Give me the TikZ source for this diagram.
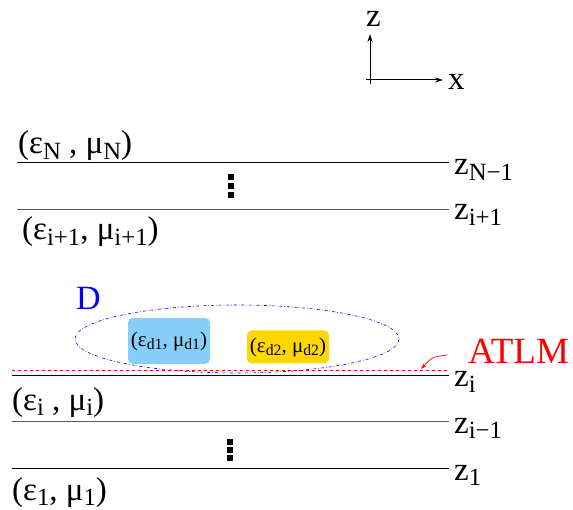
\documentclass[tikz,border=0pt]{standalone}
\usepackage{fontspec}
\setmainfont{Liberation Serif}
\usetikzlibrary{arrows.meta}
\definecolor{boxblue}{HTML}{87CEFA}
\definecolor{boxgold}{HTML}{FFD700}
\newcommand{\lsb}[1]{\raisebox{-0.35ex}{\fontsize{0.75em}{1em}\selectfont #1}}
\tikzset{
  layer/.style={line width=1pt},
  graylayer/.style={line width=1pt, black!65},
  zlab/.style={anchor=base west, inner sep=0pt, font=\fontsize{33}{35}\selectfont},
  mat/.style={anchor=base west, inner sep=0pt, font=\fontsize{33}{35}\selectfont},
  dotsq/.style={fill=black, minimum width=6pt, minimum height=6pt, inner sep=0pt},
  matbox/.style={rounded corners=5pt, inner sep=0pt, font=\fontsize{21}{23}\selectfont},
}
\begin{document}
\begin{tikzpicture}[x=1pt,y=-1pt]
\useasboundingbox (0,0) rectangle (573,510);
% axes
\coordinate (zt) at (370,34);
\coordinate (xt) at (443,80);
\draw[line width=1pt,-{Stealth[length=8pt,width=5pt]}] (370,84) -- (zt);
\draw[line width=1pt,-{Stealth[length=8pt,width=5pt]}] (366,80) -- (xt);
\node[zlab] (zax) at (366,27) {z};
\node[zlab] (xax) at (448,90) {x};
% top layers
\node[mat] (eN) at (18,154) {(ε\lsb{N} , μ\lsb{N})};
\coordinate (a1) at (17,163); \coordinate (a2) at (449,163);
\draw[layer] (a1) -- (a2);
\node[zlab] (zN) at (454,175) {z\lsb{N−1}};
\node[dotsq] (d1) at (231,177) {};
\node[dotsq] (d2) at (231,186) {};
\node[dotsq] (d3) at (231,195) {};
\coordinate (b1) at (17,210); \coordinate (b2) at (449,210);
\draw[graylayer] (b1) -- (b2);
\node[zlab] (zi1) at (454,220) {z\lsb{i+1}};
\node[mat] (ei1) at (22,240) {(ε\lsb{i+1}, μ\lsb{i+1})};
% domain D
\node[font=\fontsize{34}{36}\selectfont, text=blue, anchor=base west, inner sep=0pt] (D) at (76,310) {D};
\draw[blue, line width=0.6pt, dash dot] (237,339) ellipse [x radius=162, y radius=34];
\node[matbox, fill=boxblue, minimum width=82pt, minimum height=46pt] (bx1) at (169,341) {(ε\lsb{d1}, μ\lsb{d1})};
\node[matbox, fill=boxgold, minimum width=82pt, minimum height=33pt] (bx2) at (288,347) {(ε\lsb{d2}, μ\lsb{d2})};
% ATLM
\coordinate (r1) at (12,370); \coordinate (r2) at (449,370);
\draw[red, dashed, line width=0.8pt] (r1) -- (r2);
\node[font=\fontsize{37}{39}\selectfont, text=red, anchor=base west, inner sep=0pt] (atlm) at (468,364) {ATLM};
\coordinate (as) at (447,355);
\coordinate (ae) at (421,369);
\draw[red, line width=0.7pt, -{Stealth[length=6pt,width=4pt]}] (as) .. controls (432,357) .. (ae);
% lower layers
\coordinate (c1) at (12,376); \coordinate (c2) at (449,376);
\draw[layer] (c1) -- (c2);
\node[zlab] (zi) at (454,387) {z\lsb{i}};
\node[mat] (ei) at (12,410) {(ε\lsb{i} , μ\lsb{i})};
\coordinate (e1) at (12,422); \coordinate (e2) at (449,422);
\draw[graylayer] (e1) -- (e2);
\node[zlab] (zim) at (454,433) {z\lsb{i−1}};
\node[dotsq] (d4) at (230,442) {};
\node[dotsq] (d5) at (230,450) {};
\node[dotsq] (d6) at (230,458) {};
\coordinate (f1) at (12,468); \coordinate (f2) at (449,468);
\draw[layer] (f1) -- (f2);
\node[zlab] (z1) at (454,480) {z\lsb{1}};
\node[mat] (e1n) at (12,500) {(ε\lsb{1}, μ\lsb{1})};
\end{tikzpicture}
\end{document}
